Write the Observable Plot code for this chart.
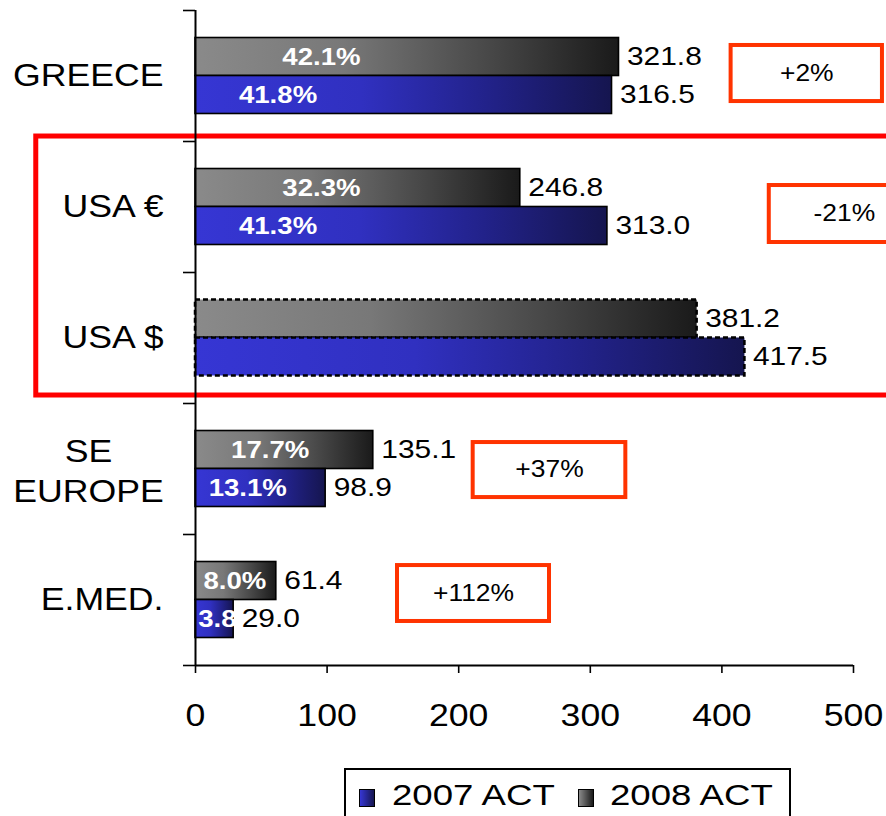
<!DOCTYPE html>
<html>
<head>
<meta charset="utf-8">
<script src="https://cdn.jsdelivr.net/npm/d3@7"></script>
<script src="https://cdn.jsdelivr.net/npm/@observablehq/plot@0.6"></script>
<style>
  html, body { margin: 0; padding: 0; background: #fff; }
  #wrap { position: relative; width: 886px; height: 816px; overflow: hidden; font-family: "Liberation Sans", Arial, sans-serif; }
  #legend { position: absolute; left: 344px; top: 768px; width: 447px; height: 60px; border: 2px solid #000; box-sizing: border-box; background: #fff; }
  .sw { position: absolute; top: 19px; width: 16px; height: 18px; border: 1.5px solid #000; box-sizing: border-box; }
  .lt { position: absolute; top: 7px; font-size: 30px; color: #000; transform: scaleX(1.22); transform-origin: left center; white-space: nowrap; line-height: 36px; }
</style>
</head>
<body>
<div id="wrap"></div>
<script>
// ---- data ----
const categories = ["GREECE", "USA €", "USA $", "SE\nEUROPE", "E.MED."];
const values2008 = [321.8, 246.8, 381.2, 135.1, 61.4];
const values2007 = [316.5, 313.0, 417.5, 98.9, 29.0];
const share2008 = ["42.1%", "32.3%", null, "17.7%", "8.0%"];
const share2007 = ["41.8%", "41.3%", null, "13.1%", "3.8%"];
const changeLabels = ["+2%", "-21%", "+37%", "+112%"];
const xTicks = [0, 100, 200, 300, 400, 500];
const seriesNames = ["2007 ACT", "2008 ACT"];

// ---- layout (annotation placement, in data units) ----
const shareLabelX2008 = [66, 66, null, 27, 6];
const shareLabelX2007 = [33, 33, null, 10, 2];
const changeBoxes = [
  {x1: 407, x2: 522, y1: 0.267, y2: 0.695},
  {x1: 436, x2: 550, y1: 1.336, y2: 1.771},
  {x1: 211, x2: 327, y1: 3.298, y2: 3.718},
  {x1: 153.5, x2: 269, y1: 4.237, y2: 4.664}
];
const highlightBox = {x1: -121, x2: 620, y1: 0.962, y2: 2.939};
const dashedCategories = ["USA $"];
const HALF = 0.29;

// ---- build table ----
const rows = [];
categories.forEach((c, i) => {
  rows.push({cat: c, series: seriesNames[1], value: values2008[i], share: share2008[i], labelX: shareLabelX2008[i],
             y1: i + 0.5 - HALF, y2: i + 0.5, dashed: dashedCategories.includes(c)});
  rows.push({cat: c, series: seriesNames[0], value: values2007[i], share: share2007[i], labelX: shareLabelX2007[i],
             y1: i + 0.5, y2: i + 0.5 + HALF, dashed: dashedCategories.includes(c)});
});
rows.forEach(d => d.yc = (d.y1 + d.y2) / 2);
const boxes = changeBoxes.map((b, i) => ({...b, text: changeLabels[i], xc: (b.x1 + b.x2) / 2, yc: (b.y1 + b.y2) / 2}));
const catRows = categories.map((c, i) => ({cat: c, yc: i + 0.5}));
const fmt = d3.format(".1f");

const barOpts = (fill, dashed) => ({
  x1: () => 0, x2: "value", y1: "y1", y2: "y2",
  fill, stroke: "#000", strokeWidth: dashed ? 2.5 : 1.6,
  strokeDasharray: dashed ? "5,3" : null
});

const chart = Plot.plot({
  width: 886,
  height: 760,
  marginLeft: 195,
  marginRight: 33,
  marginTop: 10,
  marginBottom: 95,
  style: {fontFamily: "'Liberation Sans', Arial, sans-serif", background: "#fff", color: "#000"},
  x: {domain: [0, 500]},
  y: {domain: [0, 5], reverse: true},
  marks: [
    Plot.rect([highlightBox], {x1: "x1", x2: "x2", y1: "y1", y2: "y2", stroke: "#ff0000", strokeWidth: 5, fill: "none"}),
    Plot.rect(boxes, {x1: "x1", x2: "x2", y1: "y1", y2: "y2", stroke: "#ff3300", strokeWidth: 4, fill: "none"}),
    Plot.text(boxes, {x: "xc", y: "yc", text: "text", fontSize: 23, fill: "#000"}),
    Plot.rect(rows.filter(d => d.series === seriesNames[1] && !d.dashed), barOpts("url(#g2008)", false)),
    Plot.rect(rows.filter(d => d.series === seriesNames[0] && !d.dashed), barOpts("url(#g2007)", false)),
    Plot.rect(rows.filter(d => d.series === seriesNames[1] && d.dashed), barOpts("url(#g2008)", true)),
    Plot.rect(rows.filter(d => d.series === seriesNames[0] && d.dashed), barOpts("url(#g2007)", true)),
    Plot.text(rows.filter(d => d.share), {x: "labelX", y: "yc", text: "share", fill: "#fff", fontWeight: "bold", fontSize: 24, textAnchor: "start"}),
    Plot.text(rows, {x: "value", y: "yc", text: d => fmt(d.value), dx: 8, textAnchor: "start", fontSize: 26, fill: "#000"}),
    Plot.text(catRows.filter(d => !d.cat.includes("\n")), {y: "yc", text: "cat", frameAnchor: "left", dx: -32, textAnchor: "end", fontSize: 31, fill: "#000"}),
    Plot.text(catRows.filter(d => d.cat.includes("\n")), {y: "yc", text: "cat", frameAnchor: "left", dx: -107, textAnchor: "middle", fontSize: 31, lineHeight: 1.3, fill: "#000"}),
    Plot.ruleX([0], {stroke: "#000", strokeWidth: 2}),
    Plot.ruleY([5], {stroke: "#000", strokeWidth: 2}),
    Plot.axisY({ticks: [0, 1, 2, 3, 4, 5], tickSize: 12, tickFormat: () => "", label: null, strokeWidth: 1.6}),
    Plot.axisX({ticks: xTicks, tickSize: 8, tickPadding: 30, fontSize: 31, tickFormat: d => String(d), label: null, strokeWidth: 1.6})
  ]
});

// gradients
const ns = "http://www.w3.org/2000/svg";
const defs = document.createElementNS(ns, "defs");
defs.innerHTML = `
<linearGradient id="g2008" x1="0" x2="1" y1="0" y2="0">
  <stop offset="0" stop-color="#8a8a8a"/>
  <stop offset="0.35" stop-color="#787878"/>
  <stop offset="0.7" stop-color="#474747"/>
  <stop offset="1" stop-color="#1a1a1a"/>
</linearGradient>
<linearGradient id="g2007" x1="0" x2="1" y1="0" y2="0">
  <stop offset="0" stop-color="#3636d4"/>
  <stop offset="0.4" stop-color="#3030c0"/>
  <stop offset="0.7" stop-color="#22228a"/>
  <stop offset="1" stop-color="#15154f"/>
</linearGradient>`;
chart.insertBefore(defs, chart.firstChild);

// horizontal stretch of text (reference type is wide); scaling is about the text's own anchor
const SX = 1.15;
chart.querySelectorAll("text").forEach(t => {
  const xa = parseFloat(t.getAttribute("x"));
  const x = isFinite(xa) ? xa : 0;
  const tr = t.getAttribute("transform") || "";
  t.setAttribute("transform", `${tr} translate(${x},0) scale(${SX},1) translate(${-x},0)`);
});

const wrap = document.getElementById("wrap");
wrap.appendChild(chart);

// legend
const legend = document.createElement("div");
legend.id = "legend";
legend.innerHTML = `
  <div class="sw" style="left:13px;background:linear-gradient(to right,#3636d4,#15154f)"></div>
  <div class="lt" style="left:46px">${seriesNames[0]}</div>
  <div class="sw" style="left:232px;background:linear-gradient(to right,#8a8a8a,#1a1a1a)"></div>
  <div class="lt" style="left:264px">${seriesNames[1]}</div>`;
wrap.appendChild(legend);
</script>
</body>
</html>
